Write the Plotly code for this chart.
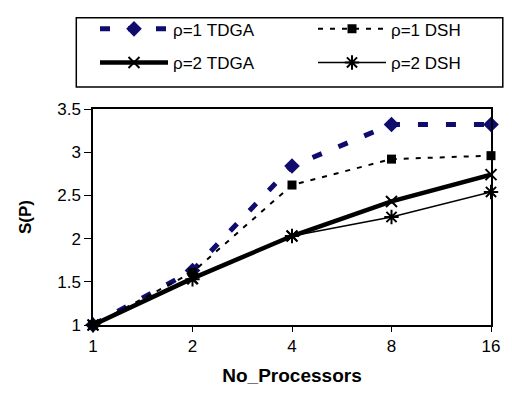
import plotly.graph_objects as go

processors = ["1", "2", "4", "8", "16"]
tdga_rho1 = [1.0, 1.63, 2.84, 3.32, 3.32]
dsh_rho1 = [1.0, 1.61, 2.62, 2.92, 2.96]
tdga_rho2 = [1.0, 1.54, 2.03, 2.43, 2.74]
dsh_rho2 = [1.0, 1.53, 2.03, 2.25, 2.54]
y_ticks = [1, 1.5, 2, 2.5, 3, 3.5]

W, H = 512, 395
L, R, T, B = 93, 14, 103, 67
PW, PH = W - L - R, H - T - B


def px_x(p):
    return (p - L) / PW


def px_y(p):
    return (H - B - p) / PH


FONT = "Liberation Sans, Arial, sans-serif"
NAVY = "#100c6e"

fig = go.Figure()
fig.add_trace(go.Scatter(
    x=processors, y=tdga_rho1, name="ρ=1 TDGA", mode="lines+markers",
    line=dict(color=NAVY, width=5, dash="10px,18px"),
    marker=dict(symbol="diamond", size=12, color=NAVY),
    cliponaxis=False, legend="legend"))
fig.add_trace(go.Scatter(
    x=processors, y=dsh_rho1, name="ρ=1 DSH", mode="lines+markers",
    line=dict(color="black", width=2, dash="5px,7px"),
    marker=dict(symbol="square", size=9, color="black"),
    cliponaxis=False, legend="legend"))
fig.add_trace(go.Scatter(
    x=processors, y=tdga_rho2, name="ρ=2 TDGA", mode="lines+markers",
    line=dict(color="black", width=4.5),
    marker=dict(symbol="x-thin-open", size=11, color="black",
                line=dict(color="black", width=2)),
    cliponaxis=False, legend="legend2"))
fig.add_trace(go.Scatter(
    x=processors, y=dsh_rho2, name="ρ=2 DSH", mode="lines+markers",
    line=dict(color="black", width=1.5),
    marker=dict(symbol="asterisk-open", size=12, color="black",
                line=dict(color="black", width=2)),
    cliponaxis=False, legend="legend2"))

leg_common = dict(
    orientation="h", xanchor="left", yanchor="middle",
    x=px_x(76), bgcolor="rgba(0,0,0,0)", borderwidth=0,
    font=dict(family=FONT, size=17, color="black"),
    entrywidth=116, indentation=19, itemwidth=68, traceorder="normal",
)

fig.update_layout(
    width=W, height=H,
    margin=dict(l=L, r=R, t=T, b=B, pad=0),
    paper_bgcolor="white", plot_bgcolor="white",
    font=dict(family=FONT, size=17, color="black"),
    showlegend=True,
    legend=dict(y=px_y(20), **leg_common),
    legend2=dict(y=px_y(55), **leg_common),
    shapes=[dict(type="rect", xref="paper", yref="paper",
                 x0=px_x(76), x1=px_x(510), y0=px_y(80), y1=px_y(8),
                 line=dict(color="black", width=1.5), layer="above")],
    xaxis=dict(
        type="category", range=[0, 4], showgrid=False,
        showline=True, linecolor="black", linewidth=1.5, mirror=True,
        ticks="outside", ticklen=5, tickcolor="black", tickwidth=1,
        tickfont=dict(family=FONT, size=17, color="black"),
        title=dict(text="<b>No_Processors</b>",
                   font=dict(family=FONT, size=19, color="black"), standoff=14),
    ),
    yaxis=dict(
        range=[1, 3.5], tickvals=y_ticks, showgrid=False, zeroline=False,
        showline=True, linecolor="black", linewidth=1.5, mirror=True,
        ticks="outside", ticklen=7, tickcolor="black", tickwidth=1,
        tickfont=dict(family=FONT, size=17, color="black"),
        title=dict(text="<b>S(P)</b>",
                   font=dict(family=FONT, size=17, color="black"), standoff=21),
    ),
)

fig.write_html("out.html")
